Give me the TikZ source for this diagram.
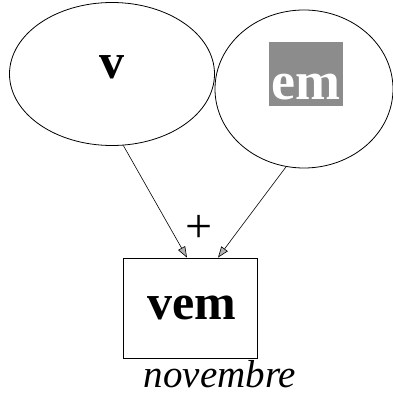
\documentclass[tikz,border=0pt]{standalone}
\usepackage{fontspec}
\setmainfont{Liberation Serif}
\usepackage{tikz}
\usetikzlibrary{shapes,arrows.meta,positioning,calc}
\definecolor{hlgray}{HTML}{8C8C8C}
\definecolor{tipgray}{HTML}{B4B4B4}

\begin{document}
\begin{tikzpicture}[x=1pt, y=1pt, >={Triangle[length=11pt, width=8pt, fill=tipgray]}, every node/.style={inner sep=0pt}]
  \useasboundingbox (0, 0) rectangle (393, 397);
  \node[ellipse, draw, line width=0.8pt, minimum width=205, minimum height=143] (v) at (112, 323) {};
  \node[ellipse, draw, line width=0.8pt, minimum width=178, minimum height=158] (em) at (304, 308) {};
  \node[font=\fontsize{50}{50}\selectfont\bfseries] (vtxt) at (112, 330) {v};
  \node[fill=hlgray, text=white, font=\fontsize{54}{54}\selectfont\bfseries, inner xsep=3pt, text height=58pt, text depth=6pt] (emtxt) at (306, 323) {em};
  \node[draw, line width=0.8pt, minimum width=134, minimum height=100] (vem) at (190, 89) {};
  \node[font=\fontsize{50}{50}\selectfont\bfseries] (vemtxt) at (192, 89) {vem};
  \node[font=\fontsize{39}{39}\selectfont\itshape] (nov) at (220, 23) {novembre};
  \node[font=\fontsize{48}{48}\selectfont] (plus) at (199, 168) {+};
  \draw[->, line width=0.6pt] (v.-81) -- ($(vem.north)+(-3, 0)$);
  \draw[->, line width=0.6pt] (em.-103) -- ($(vem.north)+(28, 0)$);
\end{tikzpicture}
\end{document}
